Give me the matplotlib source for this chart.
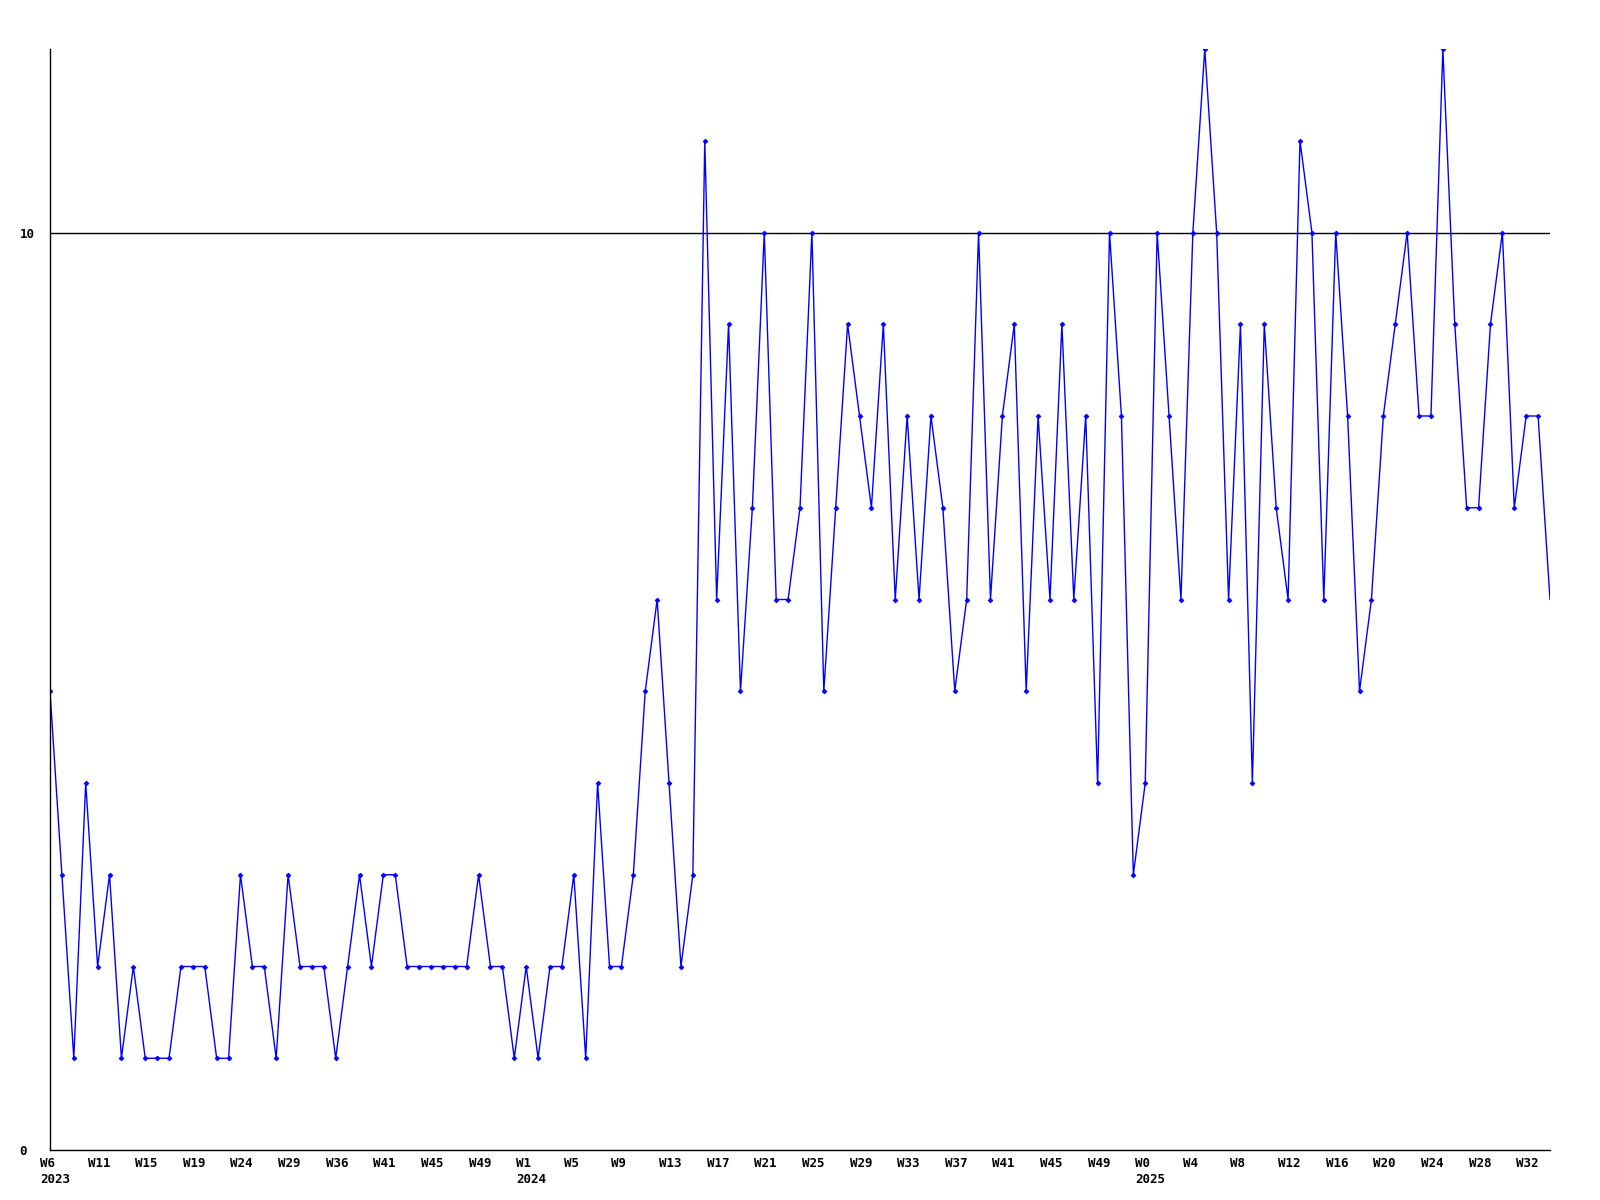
import matplotlib.pyplot as plt
import matplotlib.transforms as mtransforms
import numpy as np

# weekly counts, W6 2023 .. W34 2025
values = [5, 3, 1, 4, 2, 3, 1, 2, 1, 1,
          1, 2, 2, 2, 1, 1, 3, 2, 2, 1,
          3, 2, 2, 2, 1, 2, 3, 2, 3, 3,
          2, 2, 2, 2, 2, 2, 3, 2, 2, 1,
          2, 1, 2, 2, 3, 1, 4, 2, 2, 3,
          5, 6, 4, 2, 3, 11, 6, 9, 5, 7,
          10, 6, 6, 7, 10, 5, 7, 9, 8, 7,
          9, 6, 8, 6, 8, 7, 5, 6, 10, 6,
          8, 9, 5, 8, 6, 9, 6, 8, 4, 10,
          8, 3, 4, 10, 8, 6, 10, 12, 10, 6,
          9, 4, 9, 7, 6, 11, 10, 6, 10, 8,
          5, 6, 8, 9, 10, 8, 8, 12, 9, 7,
          7, 9, 10, 7, 8, 8, 6]

# a label on every 4th point
week_labels = ['W6', 'W11', 'W15', 'W19', 'W24', 'W29', 'W36', 'W41', 'W45', 'W49',
               'W1', 'W5', 'W9', 'W13', 'W17', 'W21', 'W25', 'W29', 'W33', 'W37',
               'W41', 'W45', 'W49', 'W0', 'W4', 'W8', 'W12', 'W16', 'W20', 'W24',
               'W28', 'W32']
year_labels = {0: '2023', 40: '2024', 92: '2025'}

y_ticks = [0, 10]
y_max = 12

x = np.arange(len(values))
n = len(values)

fig = plt.figure(figsize=(16, 12), dpi=100)
ax = fig.add_axes([50 / 1600, 1 - 1150 / 1200, 1500 / 1600, 1101 / 1200])

ax.axhline(10, color='black', linewidth=1.0, zorder=1)
ax.plot(x, values, color='#0000ff', linewidth=1.0, marker='D', markersize=2.4,
        markeredgewidth=0.6, markevery=slice(0, n - 1), zorder=2)

ax.set_xlim(0, n - 1)
ax.set_ylim(0, y_max)

for side in ['top', 'right']:
    ax.spines[side].set_visible(False)
for side in ['left', 'bottom']:
    ax.spines[side].set_linewidth(1.0)
    ax.spines[side].set_color('black')

font = dict(family='DejaVu Sans Mono', fontsize=9, fontweight='bold')

tick_pos = list(range(0, n, 4))[:len(week_labels)]
tick_text = []
for p, w in zip(tick_pos, week_labels):
    tick_text.append(w + '\n' + year_labels[p] if p in year_labels else w)
ax.set_xticks(tick_pos)
ax.set_xticklabels(tick_text, ha='left', va='top', linespacing=1.3, **font)
ax.tick_params(axis='x', length=0, pad=5)
offset = mtransforms.ScaledTranslation(-10 / 100, 0, fig.dpi_scale_trans)
for lab in ax.get_xticklabels():
    lab.set_transform(lab.get_transform() + offset)

ax.set_yticks(y_ticks)
ax.set_yticklabels([str(v) for v in y_ticks], ha='left', **font)
ax.tick_params(axis='y', length=0, pad=22)

fig.savefig('out.png', dpi=100, facecolor='white')
